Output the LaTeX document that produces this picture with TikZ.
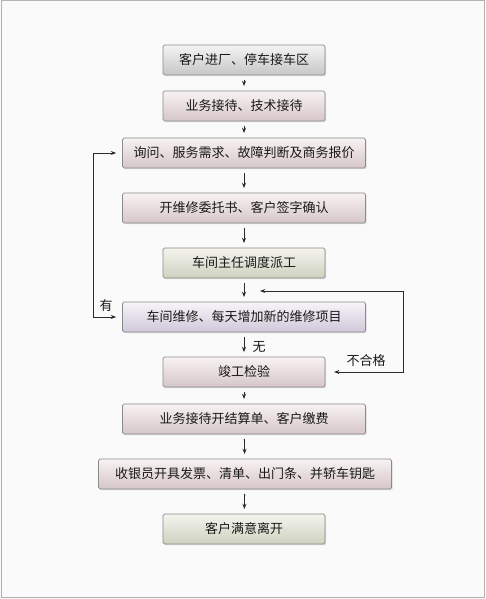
\documentclass[tikz,border=0pt]{standalone}
\usepackage{fontspec}
\setmainfont{Noto Sans CJK SC}
\usepackage{tikz}
\usetikzlibrary{arrows.meta,shadows}
\definecolor{bgpage}{HTML}{FAFAFA}
\definecolor{rim}{HTML}{8A8A8A}
\definecolor{greytop}{HTML}{F4F4F4}
\definecolor{greybot}{HTML}{C6C6C6}
\definecolor{pinktop}{HTML}{F8F2F2}
\definecolor{pinkbot}{HTML}{D6C6C8}
\definecolor{greentop}{HTML}{F4F4EE}
\definecolor{greenbot}{HTML}{CFD1C0}
\definecolor{lilactop}{HTML}{F6F4F8}
\definecolor{lilacbot}{HTML}{D0C8DA}
\definecolor{wire}{HTML}{2A2A2A}

\begin{document}
\begin{tikzpicture}[x=0.75pt,y=-0.75pt,
  stage/.style={draw=rim, line width=0.6pt, rounded corners=1.2pt,
    minimum height=22.5pt, inner sep=0pt, text=black!90,
    font=\fontsize{9.75}{12}\selectfont,
    drop shadow={shadow xshift=0.9pt, shadow yshift=-0.9pt, opacity=0.25}},
  short/.style={stage, minimum width=121.5pt},
  wide/.style={stage, minimum width=182.25pt},
  wider/.style={stage, minimum width=219.75pt},
  grey/.style={top color=greytop, bottom color=greybot},
  pink/.style={top color=pinktop, bottom color=pinkbot},
  green/.style={top color=greentop, bottom color=greenbot},
  lilac/.style={top color=lilactop, bottom color=lilacbot},
  flow/.style={draw=wire, line width=0.6pt, -{Stealth[length=4pt,width=3pt]},
    shorten <=3.4pt, shorten >=3.4pt},
  loop/.style={draw=wire, line width=0.6pt,
    {Stealth[length=4pt,width=3pt]}-{Stealth[length=4pt,width=3pt]}},
  tag/.style={font=\fontsize{9.75}{12}\selectfont, text=black!90, inner sep=0pt}]
  % page
  \fill[bgpage] (0,0) rectangle (485,599);
  \draw[black!30, line width=0.75pt] (1,1) rectangle (484,597);
  \useasboundingbox (0,0) rectangle (485,599);

  % steps
  \node[short, grey]  (arrive)    at (244,60)  {客户进厂、停车接车区};
  \node[short, pink]  (reception) at (244,106) {业务接待、技术接待};
  \node[wide,  pink]  (inquiry)   at (244,153) {询问、服务需求、故障判断及商务报价};
  \node[wide,  pink]  (order)     at (244,208) {开维修委托书、客户签字确认};
  \node[short, green] (dispatch)  at (244,263) {车间主任调度派工};
  \node[wide,  lilac] (repair)    at (244,317) {车间维修、每天增加新的维修项目};
  \node[short, pink]  (check)     at (244,372) {竣工检验};
  \node[wide,  pink]  (settle)    at (244,419) {业务接待开结算单、客户缴费};
  \node[wider, pink]  (cashier)   at (245,474) {收银员开具发票、清单、出门条、并轿车钥匙};
  \node[short, green] (leave)     at (244,529) {客户满意离开};

  % main line
  \draw[flow] (arrive) -- (reception);
  \draw[flow] (reception) -- (inquiry);
  \draw[flow] (inquiry) -- (order);
  \draw[flow] (order) -- (dispatch);
  \draw[flow] (dispatch) -- (repair);
  \draw[flow] (repair) -- (check);
  \draw[flow] (check) -- (settle);
  \draw[flow] (settle) -- (cashier);
  \draw[flow] (cashier) -- (leave);

  % loops
  \coordinate (leftc) at (93,317);
  \coordinate (rightc) at (403,291);
  \coordinate (back) at (260,291);
  \draw[loop, shorten <=4.5pt, shorten >=4.5pt] (inquiry.west) -| (leftc) |- (repair.west);
  \draw[loop, shorten <=6.5pt] (check.east) -| (rightc) -- (back);

  \node[tag] (yes) at (106,306) {有};
  \node[tag] (no) at (259,347) {无};
  \node[tag] (fail) at (366,361) {不合格};
\end{tikzpicture}
\end{document}
